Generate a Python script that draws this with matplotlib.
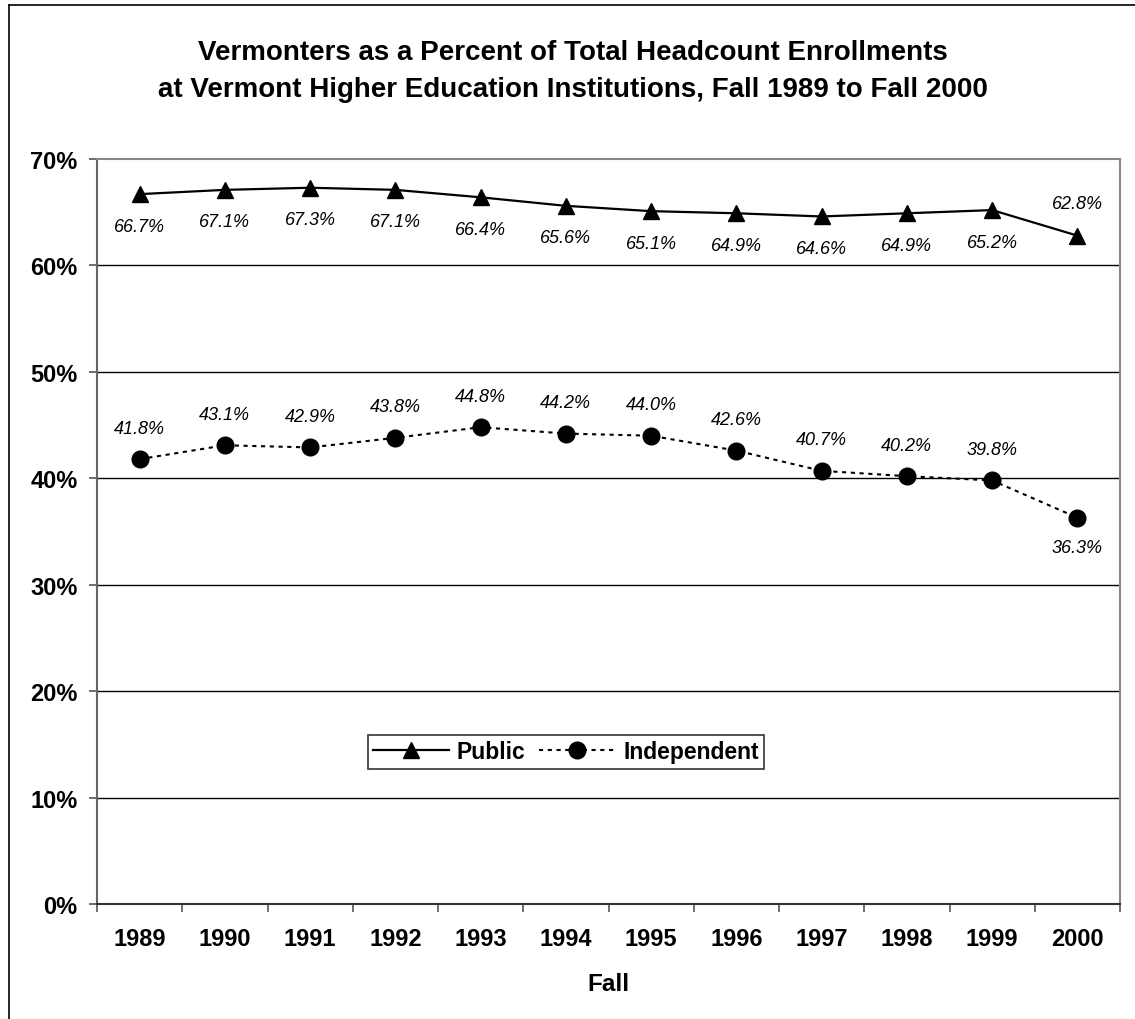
import matplotlib
matplotlib.use("Agg")
import matplotlib.pyplot as plt
from matplotlib.lines import Line2D

years = ["1989", "1990", "1991", "1992", "1993", "1994", "1995", "1996", "1997", "1998", "1999", "2000"]
public = [66.7, 67.1, 67.3, 67.1, 66.4, 65.6, 65.1, 64.9, 64.6, 64.9, 65.2, 62.8]
independent = [41.8, 43.1, 42.9, 43.8, 44.8, 44.2, 44.0, 42.6, 40.7, 40.2, 39.8, 36.3]
yticks = [0, 10, 20, 30, 40, 50, 60, 70]

plt.rcParams['font.family'] = ['Liberation Sans', 'DejaVu Sans']

W, H = 1135, 1020
fig = plt.figure(figsize=(W / 100, H / 100), dpi=100)
# outer frame (left and top edges visible)
fig.add_artist(Line2D([9 / W, 9 / W], [0, 1 - 6 / H], transform=fig.transFigure,
                      color='black', linewidth=1.2))
fig.add_artist(Line2D([9 / W, 1], [1 - 6 / H, 1 - 6 / H], transform=fig.transFigure,
                      color='black', linewidth=1.2))

ax = fig.add_axes([97 / W, 1 - 905 / H, (1120 - 97) / W, (905 - 160) / H])
x = list(range(len(years)))

ax.plot(x, public, color='black', linewidth=1.6, marker='^', markersize=12,
        label='Public', zorder=3)
ax.plot(x, independent, color='black', linewidth=1.5, linestyle=(0, (2.0, 2.2)),
        marker='o', markersize=12, label='Independent', zorder=3)

for i, v in enumerate(public):
    dy = 32 if i == len(public) - 1 else -32
    ax.annotate(f"{v:.1f}%", (i, v), xytext=(0, dy), textcoords='offset pixels',
                ha='center', va='center', fontsize=13, style='italic')
for i, v in enumerate(independent):
    dy = -30 if i == len(independent) - 1 else 31
    ax.annotate(f"{v:.1f}%", (i, v), xytext=(0, dy), textcoords='offset pixels',
                ha='center', va='center', fontsize=13, style='italic')

ax.set_xlim(-0.5, len(years) - 0.5)
ax.set_ylim(0, 70)
ax.set_yticks(yticks)
ax.set_yticklabels([f"{t}%" for t in yticks], fontsize=17, fontweight='bold')
ax.set_xticks(x)
ax.set_xticklabels(years, fontsize=17, fontweight='bold')
ax.tick_params(axis='x', which='major', length=0, pad=16.5)
ax.set_xticks([i - 0.5 for i in range(len(years) + 1)], minor=True)
ax.tick_params(axis='x', which='minor', length=6, width=1.2, color='#555555', direction='out')
ax.tick_params(axis='y', length=6, width=1.2, color='#555555', direction='out', pad=8)

for t in yticks[1:-1]:
    ax.axhline(t, color='black', linewidth=1, zorder=1)

ax.spines['left'].set_color('#666666')
ax.spines['right'].set_color('#888888')
ax.spines['top'].set_color('#888888')
ax.spines['bottom'].set_color('#333333')
for side in ['left', 'right', 'top', 'bottom']:
    ax.spines[side].set_linewidth(1.5)

ax.set_xlabel("Fall", fontsize=17.5, fontweight='bold')
ax.xaxis.set_label_coords(0.5, (905 - 985) / (905 - 160))
ax.xaxis.label.set_va('center')

fig.text(573 / W, 1 - 60 / H, "Vermonters as a Percent of Total Headcount Enrollments",
         ha='center', va='baseline', fontsize=20, fontweight='bold')
fig.text(573 / W, 1 - 97 / H, "at Vermont Higher Education Institutions, Fall 1989 to Fall 2000",
         ha='center', va='baseline', fontsize=20, fontweight='bold')

leg = ax.legend(loc='center', bbox_to_anchor=((566 - 97) / (1120 - 97), (905 - 753) / (905 - 160)),
                ncol=2, frameon=True, fancybox=False,
                prop={'weight': 'bold', 'size': 16.5}, handlelength=3.3,
                columnspacing=0.6, handletextpad=0.35, borderpad=0.25,
                borderaxespad=0)
leg.get_frame().set_edgecolor('black')
leg.get_frame().set_linewidth(1.2)

fig.savefig("out.png", dpi=100)
